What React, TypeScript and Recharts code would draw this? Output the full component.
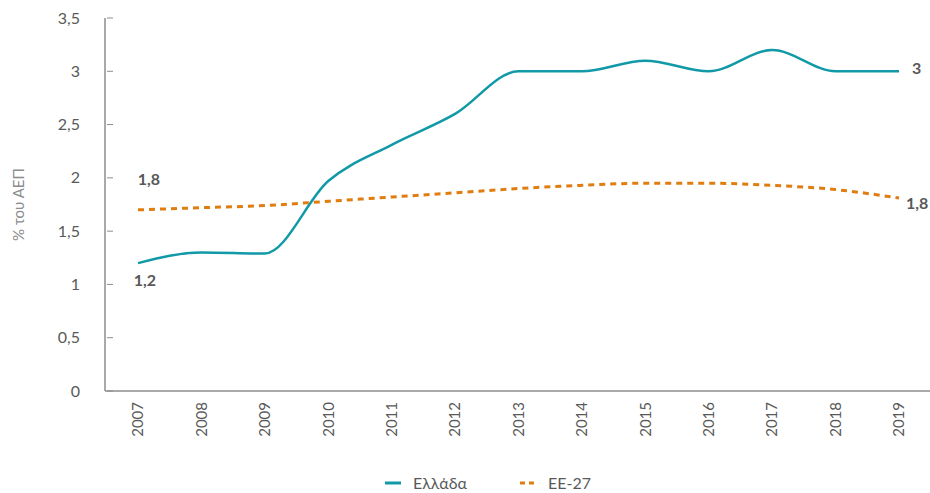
import { LineChart, Line, XAxis, YAxis, Legend, LabelList, Label } from 'recharts';

const years = ['2007', '2008', '2009', '2010', '2011', '2012', '2013', '2014', '2015', '2016', '2017', '2018', '2019'];
const greece = [1.2, 1.3, 1.29, 1.97, 2.31, 2.6, 3.0, 3.0, 3.1, 3.0, 3.2, 3.0, 3.0];
const eu27 = [1.7, 1.72, 1.74, 1.78, 1.82, 1.86, 1.9, 1.93, 1.95, 1.95, 1.93, 1.89, 1.81];
const greeceLabels = ['1,2', '', '', '', '', '', '', '', '', '', '', '', '3'];
const euLabels = ['1,8', '', '', '', '', '', '', '', '', '', '', '', '1,8'];
const yTicks = [0, 0.5, 1, 1.5, 2, 2.5, 3, 3.5];

const data = years.map((year, i) => ({ year, greece: greece[i], eu27: eu27[i] }));

const FONT = 'Lato, "Noto Sans", sans-serif';
const TEXT = '#595959';
const TEAL = '#1199a8';
const ORANGE = '#e07d10';

const YTick = (props: any) => {
  const { x, y, payload } = props;
  return (
    <g>
      <line x1={x + 2} x2={x + 8} y1={y} y2={y} stroke="#8c8c8c" strokeWidth={1} />
      <text x={x - 25} y={y} dy="0.35em" textAnchor="end" fontSize={16} fill={TEXT} fontFamily={FONT}>
        {String(payload.value).replace('.', ',')}
      </text>
    </g>
  );
};

const XTick = (props: any) => {
  const { x, y, payload } = props;
  return (
    <g transform={`translate(${x},${y + 9}) rotate(-90)`}>
      <text x={0} y={0} dy="0.35em" textAnchor="end" fontSize={15} fill={TEXT} fontFamily={FONT}>
        {payload.value}
      </text>
    </g>
  );
};

const endLabel = (labels: string[], first: [number, number], last: [number, number], anchorLast: string) => (props: any) => {
  const { x, y, index } = props;
  const text = labels[index];
  if (!text) return null;
  const isLast = index === labels.length - 1;
  const [dx, dy] = isLast ? last : first;
  return (
    <text
      x={x + dx}
      y={y + dy}
      dy="0.35em"
      textAnchor={isLast ? anchorLast : 'middle'}
      fontSize={16}
      fontWeight={700}
      fill={TEXT}
      fontFamily={FONT}
    >
      {text}
    </text>
  );
};

const LegendContent = () => (
  <div style={{ height: 42, position: 'relative', fontFamily: FONT, fontSize: 16, color: TEXT }}>
    <svg width={16} height={4} style={{ position: 'absolute', left: 377, top: 30 }}>
      <line x1={0} x2={16} y1={2} y2={2} stroke={TEAL} strokeWidth={3} />
    </svg>
    <span style={{ position: 'absolute', left: 405, top: 22 }}>Ελλάδα</span>
    <svg width={16} height={4} style={{ position: 'absolute', left: 512, top: 30 }}>
      <line x1={0} x2={16} y1={2} y2={2} stroke={ORANGE} strokeWidth={3} strokeDasharray="5 4" />
    </svg>
    <span style={{ position: 'absolute', left: 540, top: 22 }}>ΕΕ-27</span>
  </div>
);

export default function App() {
  return (
    <div style={{ width: 930, height: 493, overflow: 'hidden', position: 'relative' }}>
      <style>{'body{margin:0;overflow:hidden}'}</style>
      <div style={{ position: 'absolute', left: 8, top: 8 }}>
        <LineChart width={930} height={485} data={data} margin={{ top: 10, right: 7, bottom: 0, left: 0 }}>
          <XAxis
            dataKey="year"
            interval={0}
            height={60}
            padding={{ left: 33, right: 32 }}
            tickLine={false}
            tickSize={0}
            tick={<XTick />}
            axisLine={{ stroke: '#8c8c8c', strokeWidth: 1.5 }}
          />
          <YAxis
            width={97}
            domain={[0, 3.5]}
            ticks={yTicks}
            interval={0}
            tickLine={false}
            tickSize={0}
            tickMargin={0}
            tick={<YTick />}
            axisLine={{ stroke: '#8c8c8c', strokeWidth: 1.5 }}
          >
            <Label
              content={(p: any) => {
                const vb = p.viewBox;
                const cy = vb.y + vb.height / 2;
                return (
                  <text
                    x={16}
                    y={cy}
                    transform={`rotate(-90, 16, ${cy})`}
                    textAnchor="middle"
                    fontSize={15}
                    fill="#8c8c8c"
                    fontFamily={FONT}
                  >
                    % του ΑΕΠ
                  </text>
                );
              }}
            />
          </YAxis>
          <Legend verticalAlign="bottom" height={42} wrapperStyle={{ left: 0, width: 930 }} content={<LegendContent />} />
          <Line
            type="monotone"
            dataKey="greece"
            name="Ελλάδα"
            stroke={TEAL}
            strokeWidth={2.5}
            dot={false}
            isAnimationActive={false}
          >
            <LabelList dataKey="greece" content={endLabel(greeceLabels, [7, 17], [13, -3], 'start')} />
          </Line>
          <Line
            type="monotone"
            dataKey="eu27"
            name="ΕΕ-27"
            stroke={ORANGE}
            strokeWidth={3}
            strokeDasharray="6 5"
            dot={false}
            isAnimationActive={false}
          >
            <LabelList dataKey="eu27" content={endLabel(euLabels, [11, -30], [7, 5], 'start')} />
          </Line>
        </LineChart>
      </div>
    </div>
  );
}
